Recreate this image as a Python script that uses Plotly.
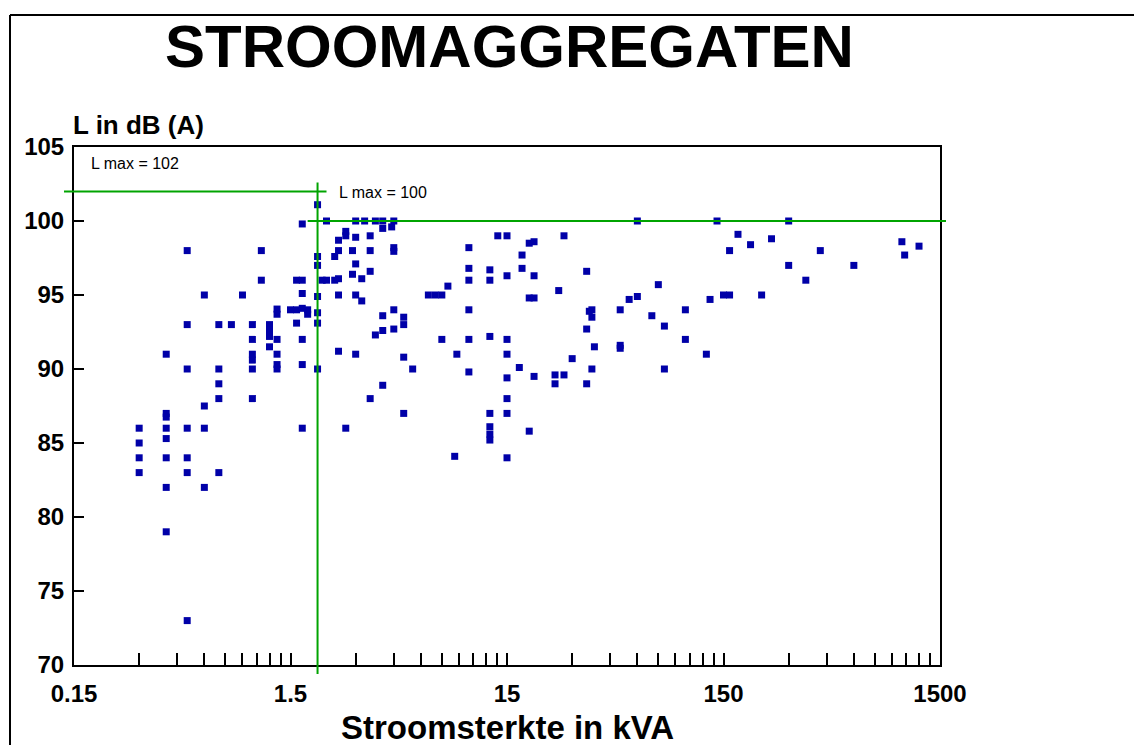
import math
import plotly.graph_objects as go

# ---------------- data ----------------
kva = [
    0.3, 0.3, 0.3, 0.3,
    0.4, 0.4, 0.4, 0.4, 0.4, 0.4, 0.4, 0.4,
    0.5, 0.5, 0.5, 0.5, 0.5, 0.5, 0.5,
    0.6, 0.6, 0.6, 0.6,
    0.7, 0.7, 0.7, 0.7, 0.7,
    0.8, 0.9,
    1.0, 1.0, 1.0, 1.0, 1.0, 1.0,
    1.1, 1.1,
    1.2, 1.2, 1.2, 1.2,
    1.3, 1.3, 1.3, 1.3, 1.3, 1.3,
    1.5,
    1.6, 1.6, 1.6,
    1.7, 1.7, 1.7, 1.7, 1.7, 1.7, 1.7,
    1.8, 1.8,
    2.0, 2.0, 2.0, 2.0, 2.0, 2.0, 2.0,
    2.1, 2.2, 2.2, 2.4, 2.4,
    2.5, 2.5, 2.5, 2.5, 2.5,
    2.7, 2.7, 2.7, 2.9, 2.9,
    3.0, 3.0, 3.0, 3.0, 3.0,
    3.2, 3.2, 3.3,
    3.5, 3.5, 3.5, 3.5,
    3.7, 3.7,
    4.0, 4.0, 4.0, 4.0, 4.0,
    4.4,
    4.5, 4.5, 4.5, 4.5, 4.5,
    5.0, 5.0, 5.0, 5.0,
    5.5, 6.5, 7.0, 7.5, 7.5, 8.0, 8.6, 8.8,
    10, 10, 10, 10, 10, 10,
    12.5, 12.5, 12.5, 12.5, 12.5, 12.5, 12.5,
    13.6,
    15, 15, 15, 15, 15, 15, 15, 15,
    17.1, 17.6, 17.6,
    19, 19, 19,
    20, 20, 20, 20,
    25, 25, 26, 27.5, 27.5, 30,
    35, 35, 35, 36, 37, 37, 37, 38,
    50, 50, 50, 55, 60, 60, 70, 75, 80, 80,
    100, 100, 125, 130, 140, 150, 160, 160, 175, 200, 225, 250,
    300, 300, 360, 420, 600, 1000, 1030, 1200,
]
db = [
    86, 85, 84, 83,
    91, 87, 86.75, 86, 85.3, 84, 82, 79,
    98, 93, 90, 86, 84, 83, 73,
    95, 87.5, 86, 82,
    93, 90, 89, 88, 83,
    93, 95,
    93, 92, 91, 90.6, 90, 88,
    98, 96,
    93, 92.65, 92.2, 91.5,
    94.05, 93.7, 92, 91, 90.3, 90,
    94,
    96, 94, 93.1,
    99.8, 96, 95.1, 94.1, 92, 90.3, 86,
    94.0, 93.7,
    101.1, 97.6, 97.0, 94.9, 93.8, 93.1, 90,
    96, 100, 96, 97.6, 96,
    98.7, 98, 96.1, 95, 91.2,
    99.3, 99.0, 86, 98, 96.4,
    100, 98.9, 97.1, 95, 91,
    96.1, 94.6, 100,
    99.0, 98, 96.6, 88,
    100, 92.3,
    100, 99.5, 93.6, 92.6, 88.9,
    99.6,
    100, 98.2, 97.95, 94.0, 92.7,
    93.5, 93.0, 90.8, 87.0,
    90, 95, 95, 95, 92, 95.6, 84.1, 91,
    98.2, 96.8, 96.0, 94.0, 92.0, 89.8,
    96.7, 96.0, 92.2, 87.0, 86.1, 85.6, 85.2,
    99.0,
    99.0, 96.3, 92, 91, 89.4, 88, 87, 84,
    90.1, 97.7, 96.8,
    98.5, 94.8, 85.8,
    98.6, 96.3, 94.8, 89.5,
    89.6, 89.0, 95.3, 99.0, 89.6, 90.7,
    96.6, 92.7, 89.0, 93.9, 94.0, 93.5, 90.0, 91.5,
    94.0, 91.6, 91.4, 94.7, 100, 94.9, 93.6, 95.7, 92.9, 90.0,
    94.0, 92.0, 91.0, 94.7, 100, 95, 95, 98, 99.1, 98.4, 95, 98.8,
    100, 97, 96, 98, 97, 98.6, 97.7, 98.3,
]

lmax_low = 102          # limit for small generators
lmax_high = 100         # limit for larger generators
x_split = 2.0           # kVA where the limit changes
x_low_end = 2.2         # end of the 102 line
x_high_start = 1.8      # start of the 100 line

title_text = "STROOMAGGREGATEN"
x_title = "Stroomsterkte in kVA"
y_title = "L in dB (A)"
lmax_low_label = "L max = 102"
lmax_high_label = "L max = 100"
x_decades = [0.15, 1.5, 15, 150, 1500]
x_decade_labels = ["0.15", "1.5", "15", "150", "1500"]
y_ticks = [70, 75, 80, 85, 90, 95, 100, 105]

# ---------------- layout geometry (page pixels) ----------------
OFF = 8                       # default body margin of the html page
FIG_W, FIG_H = 1142 - OFF, 745 - OFF
PL, PR, PT, PB = 74, 940, 147, 665   # plot box in page pixels
XMIN, XMAX = 0.15, 1500
YMIN, YMAX = 70, 105
FONT = "Liberation Sans, Arial, Helvetica, sans-serif"
GREEN = "#00A400"
BLUE = "#0000A8"


def px(x):
    return (x - PL) / (PR - PL)


def py(y):
    return (PB - y) / (PB - PT)


def xpaper(v):
    return (math.log10(v) - math.log10(XMIN)) / (math.log10(XMAX) - math.log10(XMIN))


def ypaper(v):
    return (v - YMIN) / (YMAX - YMIN)


tickvals, ticktext = [], []
for i, d in enumerate(x_decades[:-1]):
    for k in range(1, 10):
        tickvals.append(d * k)
        ticktext.append(x_decade_labels[i] if k == 1 else "")
tickvals.append(x_decades[-1])
ticktext.append(x_decade_labels[-1])

fig = go.Figure()
fig.add_trace(go.Scatter(
    x=kva, y=db, mode="markers",
    marker=dict(symbol="square", size=7, color=BLUE, line=dict(width=0)),
    showlegend=False, cliponaxis=False,
))

shapes = [
    # L max = 102 line
    dict(type="line", xref="paper", yref="y", x0=px(64), x1=xpaper(x_low_end),
         y0=lmax_low, y1=lmax_low, line=dict(color=GREEN, width=2)),
    # vertical split
    dict(type="line", xref="x", yref="paper", x0=x_split, x1=x_split,
         y0=py(674), y1=ypaper(lmax_low + 0.6), line=dict(color=GREEN, width=2)),
    # L max = 100 line
    dict(type="line", xref="paper", yref="y", x0=xpaper(x_high_start), x1=px(946),
         y0=lmax_high, y1=lmax_high, line=dict(color=GREEN, width=2)),
    # outer frame (left and top)
    dict(type="line", xref="paper", yref="paper", x0=px(10), x1=px(10),
         y0=py(760), y1=py(15), line=dict(color="black", width=2)),
    dict(type="line", xref="paper", yref="paper", x0=px(10), x1=px(1160),
         y0=py(15), y1=py(15), line=dict(color="black", width=2)),
]

annotations = [
    dict(text="<b>" + title_text + "</b>", x=px(509), y=py(47), xref="paper", yref="paper",
         showarrow=False, xanchor="center", yanchor="middle",
         font=dict(family=FONT, size=60, color="black")),
    dict(text="<b>" + y_title + "</b>", x=px(71), y=py(125), xref="paper", yref="paper",
         showarrow=False, xanchor="left", yanchor="middle",
         font=dict(family=FONT, size=26, color="black")),
    dict(text="<b>" + x_title + "</b>", x=px(507), y=py(727), xref="paper", yref="paper",
         showarrow=False, xanchor="center", yanchor="middle",
         font=dict(family=FONT, size=33, color="black")),
    dict(text=lmax_low_label, x=px(89), y=py(163), xref="paper", yref="paper",
         showarrow=False, xanchor="left", yanchor="middle",
         font=dict(family=FONT, size=16, color="black")),
    dict(text=lmax_high_label, x=px(337), y=py(192), xref="paper", yref="paper",
         showarrow=False, xanchor="left", yanchor="middle",
         font=dict(family=FONT, size=16, color="black")),
]

fig.update_layout(
    width=FIG_W, height=FIG_H,
    margin=dict(l=PL - OFF, r=FIG_W - (PR - OFF), t=PT - OFF, b=FIG_H - (PB - OFF), pad=0),
    paper_bgcolor="white", plot_bgcolor="white",
    showlegend=False,
    shapes=shapes, annotations=annotations,
    font=dict(family=FONT, color="black"),
    xaxis=dict(
        type="log", range=[math.log10(XMIN), math.log10(XMAX)],
        tickmode="array", tickvals=tickvals, ticktext=ticktext,
        ticks="inside", ticklen=12, tickwidth=1.5, tickcolor="black",
        showline=True, linecolor="black", linewidth=2, mirror=True,
        showgrid=False, zeroline=False,
        tickfont=dict(family=FONT, size=24, color="black", weight="bold"),
        ticklabelstandoff=6,
    ),
    yaxis=dict(
        range=[YMIN, YMAX], tickmode="array", tickvals=y_ticks,
        ticks="inside", ticklen=10, tickwidth=1.5, tickcolor="black",
        showline=True, linecolor="black", linewidth=2, mirror=True,
        showgrid=False, zeroline=False,
        tickfont=dict(family=FONT, size=24, color="black", weight="bold"),
        ticklabelstandoff=3,
    ),
)

fig.write_html("out.html")
